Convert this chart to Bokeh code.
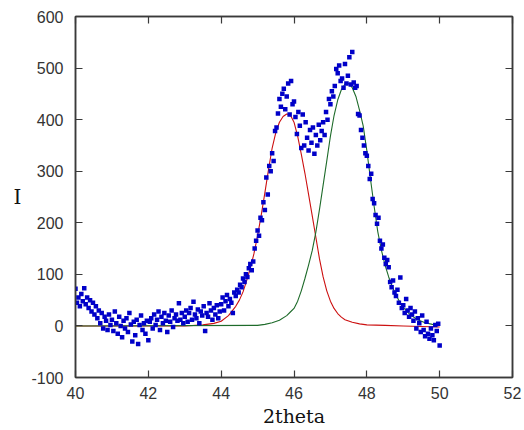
from bokeh.plotting import figure
from bokeh.models import Range1d, FixedTicker, LinearAxis
from bokeh.embed import file_html
from bokeh.resources import INLINE

# ---- measured data (2theta, I) ----
data_x = [
    40.00, 40.04, 40.08, 40.12, 40.16, 40.20, 40.24, 40.28, 40.32, 40.36, 40.40, 40.44, 40.48, 40.52, 40.56, 40.60, 40.64, 40.68, 40.72, 40.76, 40.80, 40.84, 40.88, 40.92, 40.96,
    41.00, 41.04, 41.08, 41.12, 41.16, 41.20, 41.24, 41.28, 41.32, 41.36, 41.40, 41.44, 41.48, 41.52, 41.56, 41.60, 41.64, 41.68, 41.72, 41.76, 41.80, 41.84, 41.88, 41.92, 41.96,
    42.00, 42.04, 42.08, 42.12, 42.16, 42.20, 42.24, 42.28, 42.32, 42.36, 42.40, 42.44, 42.48, 42.52, 42.56, 42.60, 42.64, 42.68, 42.72, 42.76, 42.80, 42.84, 42.88, 42.92, 42.96,
    43.00, 43.04, 43.08, 43.12, 43.16, 43.20, 43.24, 43.28, 43.32, 43.36, 43.40, 43.44, 43.48, 43.52, 43.56, 43.60, 43.64, 43.68, 43.72, 43.76, 43.80, 43.84, 43.88, 43.92, 43.96,
    44.00, 44.04, 44.08, 44.12, 44.16, 44.20, 44.24, 44.28, 44.32, 44.36, 44.40, 44.44, 44.48, 44.52, 44.56, 44.60, 44.64, 44.68, 44.72, 44.76, 44.80, 44.84, 44.88, 44.92, 44.96,
    45.00, 45.04, 45.08, 45.12, 45.16, 45.20, 45.24, 45.28, 45.32, 45.36, 45.40, 45.44, 45.48, 45.52, 45.56, 45.60, 45.64, 45.68, 45.72, 45.76, 45.80, 45.84, 45.88, 45.92, 45.96,
    46.00, 46.04, 46.08, 46.12, 46.16, 46.20, 46.24, 46.28, 46.32, 46.36, 46.40, 46.44, 46.48, 46.52, 46.56, 46.60, 46.64, 46.68, 46.72, 46.76, 46.80, 46.84, 46.88, 46.92, 46.96,
    47.00, 47.04, 47.08, 47.12, 47.16, 47.20, 47.24, 47.28, 47.32, 47.36, 47.40, 47.44, 47.48, 47.52, 47.56, 47.60, 47.64, 47.68, 47.72, 47.76, 47.80, 47.84, 47.88, 47.92, 47.96,
    48.00, 48.04, 48.08, 48.12, 48.16, 48.20, 48.24, 48.28, 48.32, 48.36, 48.40, 48.44, 48.48, 48.52, 48.56, 48.60, 48.64, 48.68, 48.72, 48.76, 48.80, 48.84, 48.88, 48.92, 48.96,
    49.00, 49.04, 49.08, 49.12, 49.16, 49.20, 49.24, 49.28, 49.32, 49.36, 49.40, 49.44, 49.48, 49.52, 49.56, 49.60, 49.64, 49.68, 49.72, 49.76, 49.80, 49.84, 49.88, 49.92, 49.96,
    50.00,
]
data_y = [
    72, 45, 55, 38, 62, 48, 73, 42, 55, 35, 50, 28, 45, 22, 38, 15, 30, 5, 25, -5, 18, 10, -8, 22, 2,
    12, -10, 28, 5, -15, 18, 0, -22, 10, -5, 15, -12, 25, 3, -30, 8, -18, 12, -35, 2, 20, -8, 5, -15, 10,
    -28, 8, 15, -5, 22, 2, 12, 28, -8, 18, 5, 25, 10, -12, 20, 8, 30, -2, 15, 22, 10, 44, 12, 25, 5,
    18, 30, 8, 25, 35, 12, 47, 22, 15, 32, 5, 28, 20, 38, -10, 25, 18, 44, 30, 12, 35, 22, 40, 15, 28,
    42, 55, 30, 48, 60, 38, 52, 45, 25, 65, 58, 70, 65, 80, 75, 92, 85, 100, 95, 112, 120, 108, 125, 150, 165,
    185, 175, 210, 205, 240, 225, 288, 255, 310, 300, 335, 320, 378, 385, 412, 440, 425, 450, 460, 420, 445, 470, 410, 475, 430,
    435, 405, 372, 415, 388, 345, 410, 350, 395, 365, 340, 380, 355, 385, 334, 370, 350, 390, 360, 378, 395, 370, 415, 400, 440,
    430, 455, 445, 465, 498, 490, 505, 475, 480, 462, 508, 470, 485, 521, 468, 531, 472, 462, 465, 411, 408, 380, 365, 350, 335,
    330, 310, 285, 295, 246, 238, 215, 198, 210, 165, 150, 158, 132, 120, 128, 114, 85, 75, 88, 65, 58, 70, 45, 94, 35,
    40, 25, 52, 30, 18, 35, 22, 10, 28, -5, 15, 5, -12, 20, -8, -20, 8, -15, -25, -5, -18, -28, 2, -10, 4,
    -38,
]

# ---- fitted peak 1 (red) ----
red_x = [40.0, 43.0, 43.5, 43.8, 44.0, 44.2, 44.4, 44.5, 44.6, 44.7, 44.8, 44.9, 45.0, 45.1, 45.2,
         45.3, 45.4, 45.5, 45.6, 45.7, 45.8, 45.9, 46.0, 46.1, 46.2, 46.3, 46.4, 46.5, 46.6, 46.7,
         46.8, 46.9, 47.0, 47.1, 47.2, 47.3, 47.4, 47.6, 47.8, 48.0, 48.5, 49.0, 49.5, 50.0]
red_y = [0, 0, 2, 5, 9, 20, 38, 50, 66, 88, 112, 140, 175, 215, 258,
         303, 345, 375, 395, 406, 411, 409, 395, 368, 333, 296, 255, 214, 172, 130,
         95, 68, 48, 34, 24, 17, 12, 7, 4, 2, 1, 0, -1, -2]

# ---- fitted peak 2 (green) ----
green_x = [40.0, 45.0, 45.2, 45.4, 45.6, 45.8, 45.9, 46.0, 46.1, 46.2, 46.3, 46.4, 46.5, 46.6, 46.7,
           46.8, 46.9, 47.0, 47.1, 47.2, 47.3, 47.4, 47.5, 47.6, 47.7, 47.8, 47.9, 48.0, 48.1, 48.2,
           48.3, 48.4, 48.5, 48.6, 48.7, 48.8, 48.9, 49.0, 49.2, 49.4, 49.6, 49.8, 50.0]
green_y = [0, 1, 3, 6, 11, 20, 27, 34, 48, 68, 92, 118, 146, 182, 226,
           273, 320, 368, 408, 438, 458, 469, 470, 462, 445, 418, 388, 340, 285, 232,
           183, 147, 118, 95, 76, 60, 47, 36, 21, 12, 6, 3, 1]

x_ticks = [40, 42, 44, 46, 48, 50, 52]
y_ticks = [-100, 0, 100, 200, 300, 400, 500, 600]
y_tick_labels = ["-100", "0", "100", "200", "300", "400", "500", "600"]

frame_color = "#3a3a3a"
label_color = "#333333"

p = figure(width=524, height=430, output_backend="svg", toolbar_location=None,
           x_range=Range1d(40, 52), y_range=Range1d(-100, 600),
           min_border_left=75, min_border_right=12, min_border_top=16, min_border_bottom=53)
p.background_fill_color = "white"
p.border_fill_color = "white"
p.grid.visible = False
p.outline_line_color = frame_color
p.outline_line_width = 1.5

for ax, ticks in ((p.xaxis[0], x_ticks), (p.yaxis[0], y_ticks)):
    ax.ticker = FixedTicker(ticks=ticks)
    ax.major_tick_in = 7
    ax.major_tick_out = 0
    ax.minor_tick_line_color = None
    ax.axis_line_color = frame_color
    ax.axis_line_width = 1.5
    ax.major_tick_line_color = frame_color
    ax.major_tick_line_width = 1.2
    ax.major_label_text_font = "Liberation Sans"
    ax.major_label_text_font_size = "16px"
    ax.major_label_text_color = label_color

p.yaxis.major_label_overrides = {t: s for t, s in zip(y_ticks, y_tick_labels)}
p.xaxis.major_label_standoff = 9
p.yaxis.major_label_standoff = 12
p.xaxis.axis_label = "2theta"
p.xaxis.axis_label_text_font = "DejaVu Serif"
p.xaxis.axis_label_text_font_style = "normal"
p.xaxis.axis_label_text_font_size = "19px"
p.xaxis.axis_label_text_color = "#111111"
p.xaxis.axis_label_standoff = 3

p.yaxis.axis_label = "I"
p.yaxis.axis_label_orientation = "horizontal"
p.yaxis.axis_label_text_font = "DejaVu Serif"
p.yaxis.axis_label_text_font_style = "normal"
p.yaxis.axis_label_text_font_size = "20px"
p.yaxis.axis_label_text_color = "#111111"
p.yaxis.axis_label_standoff = 7

# top and right frame edges: ticks only, no labels drawn
top = LinearAxis(ticker=FixedTicker(ticks=x_ticks), major_tick_in=7, major_tick_out=0,
                 minor_tick_line_color=None, axis_line_color=frame_color, axis_line_width=1.5,
                 major_tick_line_color=frame_color, major_tick_line_width=1.2,
                 major_label_text_color=None, major_label_text_font_size="8px",
                 major_label_standoff=0)
right = LinearAxis(ticker=FixedTicker(ticks=y_ticks), major_tick_in=7, major_tick_out=0,
                   minor_tick_line_color=None, axis_line_color=frame_color, axis_line_width=1.5,
                   major_tick_line_color=frame_color, major_tick_line_width=1.2,
                   major_label_text_color=None, major_label_text_font_size="8px",
                   major_label_standoff=0)
p.add_layout(top, "above")
p.add_layout(right, "right")

p.line(red_x, red_y, line_color="#cc1010", line_width=1.1)
p.line(green_x, green_y, line_color="#1e6b2a", line_width=1.1)
p.scatter(data_x, data_y, marker="square", size=4.5, fill_color="#0000c8", line_color=None)

open("out.html", "w").write(file_html(p, INLINE))
